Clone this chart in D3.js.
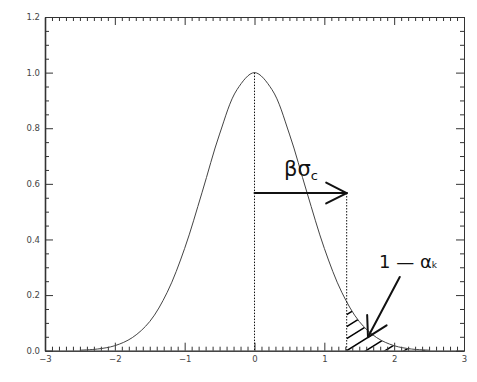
<!DOCTYPE html>
<html>
<head>
<meta charset="utf-8">
<script src="https://cdn.jsdelivr.net/npm/d3@7"></script>
<style>
  body { margin: 0; background: #fff; }
  svg { display: block; }
  .tick text { font-family: 'DejaVu Sans', sans-serif; font-size: 8.5px; fill: #444; }
  .axis path, .axis line { stroke: #333; }
</style>
</head>
<body>
<svg id="chart" width="477" height="382"></svg>
<script>
// curve samples
var curveX = [-2.5, -2.25, -2, -1.75, -1.5, -1.25, -1, -0.75, -0.5, -0.25, 0,
  0.25, 0.5, 0.75, 1, 1.25, 1.5, 1.75, 2, 2.25, 2.5]
var curveY = [0.002, 0.006, 0.018, 0.047, 0.105, 0.21, 0.368, 0.57, 0.779, 0.939, 1,
  0.939, 0.779, 0.57, 0.368, 0.21, 0.105, 0.047, 0.018, 0.006, 0.002]

var xMajor = [-3, -2, -1, 0, 1, 2, 3]
var yMajor = [0, 0.2, 0.4, 0.6, 0.8, 1.0, 1.2]

var betaShift = 1.32   // beta*sigma_c
var arrowLevel = 0.567
var peakValue = 1
var tailTip = [1.625, 0.049]
var tailStart = [2.08, 0.265]

var svg = d3.select('#chart'),
  padL = 45,
  padR = 464,
  padT = 17,
  padB = 350.7

var x = d3.scaleLinear().domain([-3, 3]).range([padL, padR])
var y = d3.scaleLinear().domain([0, 1.2]).range([padB, padT])

var xMinor = d3.range(-30, 31).map(function(d) { return d / 10 })
  .filter(function(d) { return xMajor.indexOf(d) < 0 })
var yMinor = d3.range(0, 25).map(function(d) { return d * 0.05 })
  .filter(function(d) { return yMajor.every(function(m) { return Math.abs(m - d) > 1e-6 }) })

function drawAxis(maker, scale, major, minor, pos, labels) {
  var g = svg.append('g').attr('class', 'axis').attr('transform', pos)
  g.call(maker(scale).tickValues(minor).tickSizeInner(-4).tickSizeOuter(0).tickFormat(''))
  var g2 = svg.append('g').attr('class', 'axis').attr('transform', pos)
  g2.call(maker(scale).tickValues(major).tickSizeInner(-8).tickSizeOuter(0)
    .tickPadding(labels ? 5 : 0)
    .tickFormat(labels ? labels : ''))
  return g2
}

var data = curveX.map(function(d, i) { return { x: d, y: curveY[i] } })

var defs = svg.append('defs')
var area = d3.area()
  .x(function(d) { return x(d.x) })
  .y0(y(0))
  .y1(function(d) { return y(d.y) })
  .curve(d3.curveCatmullRom)
defs.append('clipPath').attr('id', 'under')
  .append('path').attr('d', area(data))
defs.append('clipPath').attr('id', 'tail')
  .append('rect')
  .attr('x', x(betaShift))
  .attr('y', y(0.5))
  .attr('width', x(3) - x(betaShift))
  .attr('height', y(0) - y(0.5))

// hatching of the tail area
var hatch = svg.append('g').attr('clip-path', 'url(#tail)')
  .append('g').attr('clip-path', 'url(#under)')
var slope = Math.tan(32 * Math.PI / 180),
  gap = 12,
  x0 = x(betaShift),
  x1 = x(3)
d3.range(-4, 30).forEach(function(k) {
  var yy = y(0) + gap * k - 120
  hatch.append('line')
    .attr('x1', x0).attr('y1', yy)
    .attr('x2', x1).attr('y2', yy - (x1 - x0) * slope)
    .attr('stroke', '#000')
    .attr('stroke-width', 1.5)
})

// axes: ticks point inward
drawAxis(d3.axisBottom, x, xMajor, xMinor, 'translate(0,' + padB + ')', d3.format('d'))
drawAxis(d3.axisTop, x, xMajor, xMinor, 'translate(0,' + padT + ')', null)
drawAxis(d3.axisLeft, y, yMajor, yMinor, 'translate(' + padL + ',0)', d3.format('.1f'))
  .select('.domain').attr('stroke-width', 1.6).attr('stroke', '#666')
drawAxis(d3.axisRight, y, yMajor, yMinor, 'translate(' + padR + ',0)', null)

var line = d3.line()
  .x(function(d) { return x(d.x) })
  .y(function(d) { return y(d.y) })
  .curve(d3.curveCatmullRom)
svg.append('path')
  .attr('d', line(data))
  .attr('fill', 'none')
  .attr('stroke', '#444')
  .attr('stroke-width', 1)

// dotted guides
svg.append('line')
  .attr('x1', x(0)).attr('x2', x(0))
  .attr('y1', y(peakValue)).attr('y2', y(0))
  .attr('stroke', '#111').attr('stroke-dasharray', '1.5,1.5')
svg.append('line')
  .attr('x1', x(betaShift)).attr('x2', x(betaShift))
  .attr('y1', y(arrowLevel)).attr('y2', y(0))
  .attr('stroke', '#111').attr('stroke-dasharray', '1.5,1.5')

function arrow(ax, ay, bx, by, len, ang) {
  var a = Math.atan2(ay - by, ax - bx)
  var g = svg.append('g').attr('stroke', '#111').attr('stroke-width', 2)
    .attr('stroke-linecap', 'round')
  g.append('line').attr('x1', ax).attr('y1', ay).attr('x2', bx).attr('y2', by)
  ;[-1, 1].forEach(function(s) {
    var b = a + s * ang * Math.PI / 180
    g.append('line')
      .attr('x1', bx).attr('y1', by)
      .attr('x2', bx + len * Math.cos(b))
      .attr('y2', by + len * Math.sin(b))
  })
}

arrow(x(0), y(arrowLevel), x(betaShift), y(arrowLevel), 23, 27)
arrow(x(tailStart[0]), y(tailStart[1]), x(tailTip[0]), y(tailTip[1]), 22, 30)

// labels
var t1 = svg.append('text')
  .attr('x', 284).attr('y', 176)
  .style('font-family', 'DejaVu Sans, sans-serif')
  .style('font-size', '21px')
  .attr('fill', '#111')
t1.append('tspan').text('βσ')
t1.append('tspan').text('c').attr('dy', 4).style('font-size', '13px')

var t2 = svg.append('text')
  .attr('x', 379).attr('y', 268)
  .style('font-family', 'DejaVu Sans, sans-serif')
  .style('font-size', '18px')
  .attr('fill', '#111')
t2.append('tspan').text('1 — α')
t2.append('tspan').text('k').style('font-size', '9px')
</script>
</body>
</html>
